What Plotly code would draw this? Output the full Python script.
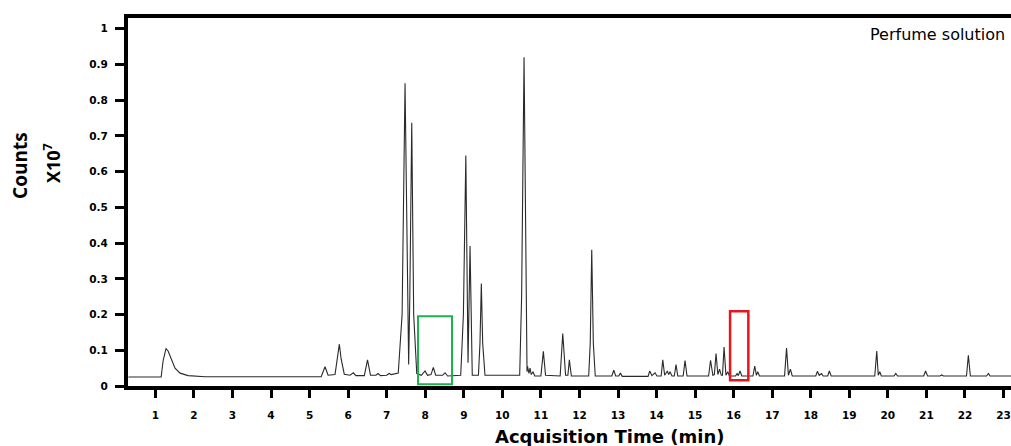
import plotly.graph_objects as go

# Chromatogram trace: retention time (min) and counts (x10^7)
time_min = [
    0.30, 1.15, 1.20, 1.276, 1.33, 1.41, 1.51, 1.64, 1.85, 2.29,
    5.30, 5.401, 5.48, 5.66, 5.73, 5.772, 5.82, 5.90, 6.05, 6.135,
    6.20, 6.42, 6.503, 6.58, 6.72, 6.776, 6.84, 7.00, 7.061, 7.12,
    7.30, 7.40, 7.476, 7.53, 7.57, 7.60, 7.650, 7.70, 7.78, 7.90,
    7.995, 8.06, 8.15, 8.21, 8.27, 8.45, 8.514, 8.58, 8.92, 8.99,
    9.053, 9.11, 9.162, 9.22, 9.38, 9.42, 9.455, 9.49, 9.55, 10.45,
    10.50, 10.563, 10.61, 10.64, 10.654, 10.69, 10.719, 10.75, 10.796, 10.84,
    11.00, 11.064, 11.12, 11.50, 11.567, 11.64, 11.70, 11.738, 11.79, 12.24,
    12.28, 12.319, 12.36, 12.41, 12.84, 12.89, 12.94, 13.02, 13.061, 13.11,
    13.78, 13.824, 13.88, 13.961, 14.01, 14.12, 14.161, 14.21, 14.28, 14.315,
    14.35, 14.40, 14.46, 14.506, 14.55, 14.69, 14.739, 14.79, 15.35, 15.401,
    15.46, 15.50, 15.543, 15.59, 15.634, 15.68, 15.71, 15.751, 15.80, 15.847,
    15.89, 16.05, 16.088, 16.12, 16.166, 16.21, 16.50, 16.547, 16.59, 16.625,
    16.67, 17.32, 17.372, 17.42, 17.471, 17.52, 18.13, 18.171, 18.22, 18.28,
    18.32, 18.44, 18.482, 18.53, 19.66, 19.712, 19.75, 19.79, 19.83, 20.16,
    20.205, 20.25, 20.93, 20.978, 21.03, 21.35, 21.398, 21.44, 22.04, 22.088,
    22.14, 22.56, 22.607, 22.65, 23.20,
]
counts_e7 = [
    0.025, 0.025, 0.070, 0.105, 0.098, 0.075, 0.050, 0.036, 0.029, 0.026,
    0.026, 0.054, 0.030, 0.032, 0.080, 0.117, 0.075, 0.033, 0.030, 0.037,
    0.029, 0.029, 0.073, 0.030, 0.030, 0.035, 0.029, 0.030, 0.035, 0.032,
    0.036, 0.200, 0.847, 0.300, 0.060, 0.250, 0.737, 0.200, 0.035, 0.030,
    0.042, 0.030, 0.032, 0.052, 0.030, 0.030, 0.037, 0.028, 0.030, 0.200,
    0.645, 0.065, 0.392, 0.030, 0.030, 0.120, 0.287, 0.120, 0.030, 0.030,
    0.250, 0.920, 0.250, 0.040, 0.055, 0.035, 0.050, 0.032, 0.040, 0.028,
    0.028, 0.097, 0.030, 0.028, 0.147, 0.030, 0.030, 0.073, 0.028, 0.028,
    0.120, 0.381, 0.120, 0.028, 0.028, 0.044, 0.028, 0.028, 0.036, 0.027,
    0.027, 0.042, 0.029, 0.037, 0.028, 0.028, 0.073, 0.030, 0.042, 0.032,
    0.040, 0.028, 0.028, 0.060, 0.028, 0.028, 0.071, 0.028, 0.028, 0.072,
    0.030, 0.032, 0.091, 0.032, 0.047, 0.030, 0.030, 0.109, 0.030, 0.040,
    0.028, 0.028, 0.035, 0.029, 0.042, 0.028, 0.028, 0.056, 0.030, 0.040,
    0.028, 0.028, 0.106, 0.030, 0.047, 0.028, 0.028, 0.041, 0.030, 0.035,
    0.028, 0.028, 0.042, 0.028, 0.028, 0.098, 0.030, 0.040, 0.028, 0.028,
    0.035, 0.028, 0.028, 0.042, 0.028, 0.028, 0.031, 0.028, 0.028, 0.086,
    0.028, 0.028, 0.035, 0.028, 0.028,
]

x_ticks = list(range(1, 24))
x_tick_labels = [str(v) for v in x_ticks]
y_ticks = [0, 0.1, 0.2, 0.3, 0.4, 0.5, 0.6, 0.7, 0.8, 0.9, 1.0]
y_tick_labels = ["0", "0.1", "0.2", "0.3", "0.4", "0.5", "0.6", "0.7", "0.8", "0.9", "1"]

# highlighted regions (min, counts x10^7)
green_box = [7.813, 8.695, 0.005, 0.195]
red_box = [15.907, 16.381, 0.016, 0.209]

fig = go.Figure()
fig.add_trace(go.Scatter(x=time_min, y=counts_e7, mode="lines",
                         line=dict(color="#2a2a2a", width=1.1),
                         hoverinfo="skip"))

tickfont = dict(family="DejaVu Sans", size=10.5, color="black", weight="bold")

fig.update_layout(
    width=1011, height=446,
    margin=dict(l=128, r=0, t=18, b=60),
    plot_bgcolor="white", paper_bgcolor="white",
    showlegend=False,
    xaxis=dict(range=[0.29, 23.194], tickvals=x_ticks, ticktext=x_tick_labels,
               showline=True, linewidth=4, linecolor="black", mirror=True,
               ticks="outside", ticklen=8, tickwidth=2.5, tickcolor="black",
               showgrid=False, zeroline=False, tickfont=tickfont,
               ticklabelstandoff=8, ticklabeloverflow="allow"),
    yaxis=dict(range=[0, 1.03], tickvals=y_ticks, ticktext=y_tick_labels,
               showline=True, linewidth=4, linecolor="black",
               ticks="outside", ticklen=9, tickwidth=2.5, tickcolor="black",
               showgrid=False, zeroline=False, tickfont=tickfont,
               ticklabelstandoff=5),
)

fig.add_shape(type="rect", xref="x", yref="y",
              x0=green_box[0], x1=green_box[1], y0=green_box[2], y1=green_box[3],
              line=dict(color="#1fb04f", width=2))
fig.add_shape(type="rect", xref="x", yref="y",
              x0=red_box[0], x1=red_box[1], y0=red_box[2], y1=red_box[3],
              line=dict(color="#e8161b", width=2.5))

fig.add_annotation(text="Acquisition Time (min)", xref="paper", yref="paper",
                   x=0.545, y=-0.136, xanchor="center", yanchor="middle",
                   showarrow=False,
                   font=dict(family="DejaVu Sans", size=18, color="black", weight="bold"))
fig.add_annotation(text="Counts", xref="paper", yref="paper",
                   x=-0.1223, y=0.598, xanchor="center", yanchor="middle",
                   textangle=-90, showarrow=False,
                   font=dict(family="Open Sans", size=19, color="black", weight=700))
fig.add_annotation(text="X10<sup>7</sup>", xref="paper", yref="paper",
                   x=-0.086, y=0.606, xanchor="center", yanchor="middle",
                   textangle=-90, showarrow=False,
                   font=dict(family="Open Sans", size=18, color="black", weight=700))
fig.add_annotation(text="Perfume solution", xref="paper", yref="paper",
                   x=0.9955, y=0.954, xanchor="right", yanchor="middle",
                   showarrow=False,
                   font=dict(family="DejaVu Sans", size=16, color="black"))

fig.write_html("out.html", config={"displayModeBar": False},
               post_script="document.body.style.margin='0';document.body.style.overflow='hidden';")
